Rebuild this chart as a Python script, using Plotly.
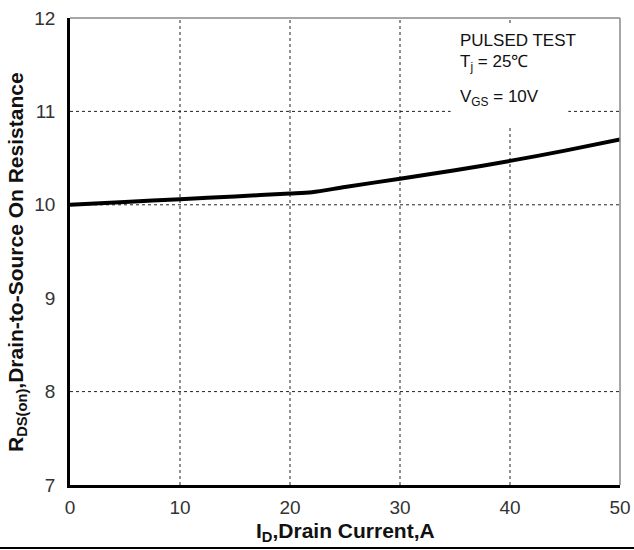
import plotly.graph_objects as go

# Data
current_a = [0, 5, 10, 15, 20, 22, 25, 30, 35, 40, 45, 50]
rds_on = [10.0, 10.03, 10.06, 10.09, 10.12, 10.135, 10.19, 10.28, 10.37, 10.47, 10.58, 10.70]
x_ticks = [0, 10, 20, 30, 40, 50]
y_ticks = [7, 8, 9, 10, 11, 12]
x_grid = [10, 20, 30, 40]
y_grid = [8, 10, 11]

FONT = "Liberation Sans, Arial, sans-serif"

fig = go.Figure()
fig.add_trace(go.Scatter(x=current_a, y=rds_on, mode="lines",
                         line=dict(color="black", width=4, shape="spline", smoothing=0.8),
                         showlegend=False, hoverinfo="skip"))

shapes = []
for gx in x_grid:
    shapes.append(dict(type="line", xref="x", yref="y", x0=gx, x1=gx, y0=7, y1=12,
                       line=dict(color="#222", width=1, dash="dot"), layer="below"))
for gy in y_grid:
    shapes.append(dict(type="line", xref="x", yref="y", x0=0, x1=50, y0=gy, y1=gy,
                       line=dict(color="#222", width=1, dash="dot"), layer="below"))
# white box behind annotation text
shapes.append(dict(type="rect", xref="x", yref="y", x0=34.6, x1=45.3, y0=10.85, y1=11.92,
                   fillcolor="white", line=dict(width=0), layer="below"))
# frame: top & right gray
shapes.append(dict(type="line", xref="paper", yref="paper", x0=0, x1=1, y0=1, y1=1,
                   line=dict(color="#888", width=1.5)))
shapes.append(dict(type="line", xref="paper", yref="paper", x0=1, x1=1, y0=0, y1=1,
                   line=dict(color="#888", width=1.5)))
# bottom line of the image
shapes.append(dict(type="line", xref="paper", yref="paper", x0=-0.13, x1=1.03, y0=-0.1349, y1=-0.1349,
                   line=dict(color="black", width=2)))

fig.update_layout(
    width=634, height=550,
    margin=dict(l=70, r=14, t=18, b=65, autoexpand=False),
    paper_bgcolor="white", plot_bgcolor="white",
    shapes=shapes,
    font=dict(family=FONT, color="#222"),
    xaxis=dict(range=[0, 50], tickvals=x_ticks, showgrid=False, zeroline=False,
               showline=True, linecolor="black", linewidth=2.5, automargin=False,
               tickfont=dict(size=19, color="#333"), ticks="", ticklabelstandoff=3,
               ticklabeloverflow="allow"),
    yaxis=dict(range=[7, 12], tickvals=y_ticks, showgrid=False, zeroline=False,
               showline=True, linecolor="black", linewidth=2.5, automargin=False,
               tickfont=dict(size=19, color="#333"), ticks="", ticklabelstandoff=8,
               ticklabeloverflow="allow"),
    annotations=[
        dict(x=0.5, y=-0.1006, xref="paper", yref="paper",
             text="<b>I<sub>D</sub>,Drain Current,A</b>", showarrow=False,
             xanchor="center", yanchor="middle", font=dict(size=21, color="#111", family=FONT)),
        dict(x=-0.0964, y=0.4775, xref="paper", yref="paper", textangle=-90,
             text="<b>R<sub>DS(on)</sub>,Drain-to-Source On Resistance</b>", showarrow=False,
             xanchor="center", yanchor="middle", font=dict(size=21, color="#111", family=FONT)),
        dict(x=35.3, y=11.76, xref="x", yref="y", text="PULSED TEST", showarrow=False,
             xanchor="left", yanchor="middle", font=dict(size=17, color="#111", family=FONT)),
        dict(x=35.3, y=11.52, xref="x", yref="y", text="T<sub>j</sub> = 25℃", showarrow=False,
             xanchor="left", yanchor="middle", font=dict(size=17, color="#111", family=FONT)),
        dict(x=35.3, y=11.14, xref="x", yref="y", text="V<sub>GS</sub> = 10V", showarrow=False,
             xanchor="left", yanchor="middle", font=dict(size=17, color="#111", family=FONT)),
    ],
)

fig.write_html("out.html", config={"displayModeBar": False},
               post_script="document.body.style.margin='0';document.body.style.overflow='hidden';")
